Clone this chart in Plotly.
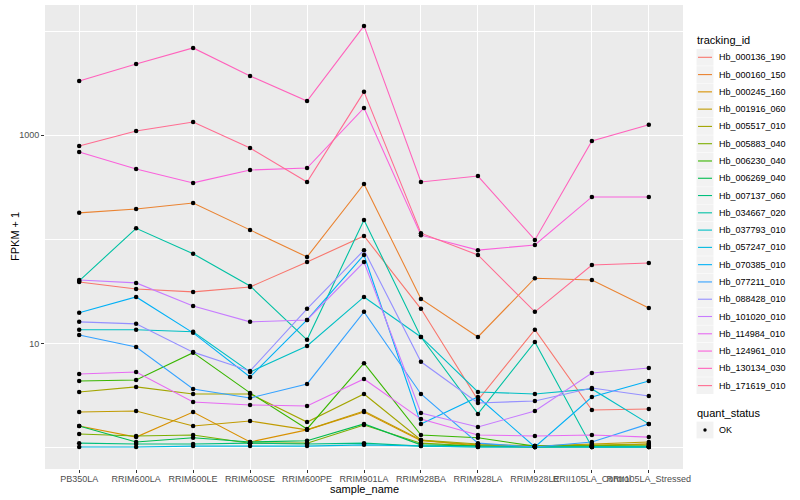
import plotly.graph_objects as go

samples = ["PB350LA", "RRIM600LA", "RRIM600LE", "RRIM600SE", "RRIM600PE", "RRIM901LA",
           "RRIM928BA", "RRIM928LA", "RRIM928LE", "RRII105LA_Control", "RRII105LA_Stressed"]

tracking_ids = ["Hb_000136_190", "Hb_000160_150", "Hb_000245_160", "Hb_001916_060",
                "Hb_005517_010", "Hb_005883_040", "Hb_006230_040", "Hb_006269_040",
                "Hb_007137_060", "Hb_034667_020", "Hb_037793_010", "Hb_057247_010",
                "Hb_070385_010", "Hb_077211_010", "Hb_088428_010", "Hb_101020_010",
                "Hb_114984_010", "Hb_124961_010", "Hb_130134_030", "Hb_171619_010"]

colors = ["#F8766D", "#EA8331", "#D89000", "#C09B00", "#A3A500", "#7CAE00", "#39B600",
          "#00BB4E", "#00BF7D", "#00C1A3", "#00BFC4", "#00BAE0", "#00B0F6", "#35A2FF",
          "#9590FF", "#C77CFF", "#E76BF3", "#FA62DB", "#FF62BC", "#FF6C91"]

# FPKM + 1 values, one list per tracking_id, in sample order
Hb_000136_190 = [39.1, 33.5, 31.4, 35.0, 60.8, 108, 21.6, 2.88, 13.6, 2.31, 2.36]
Hb_000160_150 = [180, 196, 224, 123, 68, 341, 26.9, 11.6, 42.5, 40.8, 22.0]
Hb_000245_160 = [1.62, 1.27, 2.21, 1.14, 1.49, 2.21, 1.17, 1.07, 1.04, 1.04, 1.09]
Hb_001916_060 = [2.21, 2.26, 1.62, 1.81, 1.49, 2.26, 1.19, 1.04, 1.04, 1.09, 1.14]
Hb_005517_010 = [3.44, 3.85, 3.29, 3.29, 1.77, 3.29, 1.19, 1.09, 1.04, 1.07, 1.09]
Hb_005883_040 = [1.36, 1.30, 1.33, 1.11, 1.11, 1.66, 1.11, 1.04, 1.02, 1.04, 1.04]
Hb_006230_040 = [4.39, 4.49, 8.2, 3.37, 1.52, 6.5, 1.33, 1.25, 1.04, 1.04, 1.04]
Hb_006269_040 = [1.62, 1.14, 1.25, 1.14, 1.17, 1.70, 1.07, 1.04, 1.02, 1.02, 1.02]
Hb_007137_060 = [1.11, 1.09, 1.09, 1.11, 1.09, 1.11, 1.04, 1.02, 1.02, 1.02, 1.02]
Hb_034667_020 = [40.0, 128, 73, 35.8, 10.9, 154, 11.6, 2.12, 10.4, 1.02, 1.02]
Hb_037793_010 = [13.6, 13.6, 13.0, 5.35, 9.5, 28.1, 11.6, 3.44, 3.29, 3.68, 1.70]
Hb_057247_010 = [1.02, 1.02, 1.04, 1.04, 1.04, 1.07, 1.04, 1.02, 1.02, 1.02, 1.02]
Hb_070385_010 = [19.8, 28.1, 12.7, 4.8, 16.9, 71, 1.70, 3.08, 1.02, 3.08, 4.39]
Hb_077211_010 = [12.1, 9.3, 3.68, 3.01, 4.11, 20.2, 3.29, 1.11, 1.02, 1.14, 1.70]
Hb_088428_010 = [16.2, 15.5, 8.3, 5.47, 21.6, 79, 6.7, 2.70, 2.82, 3.76, 3.15]
Hb_101020_010 = [40.8, 38.3, 23.0, 16.2, 16.9, 60.8, 2.16, 1.59, 2.26, 5.24, 5.85]
Hb_114984_010 = [5.12, 5.35, 2.76, 2.58, 2.52, 4.59, 1.89, 1.33, 1.30, 1.33, 1.27]
Hb_124961_010 = [692, 475, 349, 464, 485, 1830, 110, 79, 88.6, 256, 256]
Hb_130134_030 = [3320, 4830, 6890, 3710, 2130, 11200, 356, 406, 99, 880, 1260]
Hb_171619_010 = [790, 1100, 1340, 755, 356, 2610, 115, 71, 20.2, 56.9, 59.4]

series = [Hb_000136_190, Hb_000160_150, Hb_000245_160, Hb_001916_060, Hb_005517_010,
          Hb_005883_040, Hb_006230_040, Hb_006269_040, Hb_007137_060, Hb_034667_020,
          Hb_037793_010, Hb_057247_010, Hb_070385_010, Hb_077211_010, Hb_088428_010,
          Hb_101020_010, Hb_114984_010, Hb_124961_010, Hb_130134_030, Hb_171619_010]

y_tick_vals = [10, 1000]
y_tick_text = ["10", "1000"]
y_minor_vals = [1, 100, 10000]

FONT = "Liberation Sans"
W, H = 800, 500
L, R, T, B = 45, 117, 5, 31
PW, PH = W - L - R, H - T - B


def px(x):
    return (x - L) / PW


def py(y):
    return (H - B - y) / PH


fig = go.Figure()

for name, col, vals in zip(tracking_ids, colors, series):
    fig.add_trace(go.Scatter(x=samples, y=vals, mode="lines", name=name,
                             line=dict(color=col, width=1.1), showlegend=False,
                             hoverinfo="skip"))

all_x, all_y = [], []
for vals in series:
    all_x += samples
    all_y += vals
fig.add_trace(go.Scatter(x=all_x, y=all_y, mode="markers", name="OK",
                         marker=dict(color="black", size=4.5), showlegend=False))

shapes = []
annotations = []

# axis titles
annotations.append(dict(x=px(364), y=py(489), xref="paper", yref="paper",
                        text="sample_name", showarrow=False, xanchor="center",
                        yanchor="middle", font=dict(size=11, color="black", family=FONT)))
annotations.append(dict(x=px(15), y=py(237), xref="paper", yref="paper",
                        text="FPKM + 1", showarrow=False, textangle=-90, xanchor="center",
                        yanchor="middle", font=dict(size=11, color="black", family=FONT)))

# legend: tracking_id
annotations.append(dict(x=px(695), y=py(40), xref="paper", yref="paper",
                        text="tracking_id", showarrow=False, xanchor="left",
                        yanchor="middle", font=dict(size=11, color="black", family=FONT)))
step = 17.28
y0 = 57.3
for i, (name, col) in enumerate(zip(tracking_ids, colors)):
    yc = y0 + i * step
    shapes.append(dict(type="rect", xref="paper", yref="paper",
                       x0=px(696.5), x1=px(713.5), y0=py(yc - 8.4), y1=py(yc + 8.4),
                       fillcolor="#F2F2F2", line=dict(width=0), layer="below"))
    shapes.append(dict(type="line", xref="paper", yref="paper",
                       x0=px(698), x1=px(712), y0=py(yc), y1=py(yc),
                       line=dict(color=col, width=1.1)))
    annotations.append(dict(x=px(717), y=py(yc), xref="paper", yref="paper",
                            text=name, showarrow=False, xanchor="left", yanchor="middle",
                            font=dict(size=9, color="black", family=FONT)))

# legend: quant_status
annotations.append(dict(x=px(695), y=py(413), xref="paper", yref="paper",
                        text="quant_status", showarrow=False, xanchor="left",
                        yanchor="middle", font=dict(size=11, color="black", family=FONT)))
yc = 430
shapes.append(dict(type="rect", xref="paper", yref="paper",
                   x0=px(696.5), x1=px(713.5), y0=py(yc - 8.4), y1=py(yc + 8.4),
                   fillcolor="#F2F2F2", line=dict(width=0), layer="below"))
shapes.append(dict(type="circle", xref="paper", yref="paper",
                   x0=px(703.3), x1=px(706.7), y0=py(yc - 1.7), y1=py(yc + 1.7),
                   fillcolor="black", line=dict(width=0)))
annotations.append(dict(x=px(717), y=py(yc), xref="paper", yref="paper",
                        text="OK", showarrow=False, xanchor="left", yanchor="middle",
                        font=dict(size=9, color="black", family=FONT)))

fig.update_layout(
    width=W, height=H,
    margin=dict(l=L, r=R, t=T, b=B, pad=0, autoexpand=False),
    paper_bgcolor="white",
    plot_bgcolor="#EBEBEB",
    font=dict(family=FONT, size=9, color="#4D4D4D"),
    shapes=shapes,
    annotations=annotations,
    showlegend=False,
)

fig.update_xaxes(
    type="category", categoryorder="array", categoryarray=samples,
    range=[-0.6, len(samples) - 0.4], automargin=False,
    showgrid=True, gridcolor="white", gridwidth=1.1,
    ticks="outside", ticklen=3, tickcolor="#333333", tickwidth=1,
    ticklabelstandoff=-2,
    tickangle=0, tickfont=dict(size=9, color="#4D4D4D", family=FONT),
    zeroline=False, showline=False,
)

fig.update_yaxes(
    type="log", range=[-0.2025, 4.25], automargin=False,
    tickmode="array", tickvals=y_tick_vals, ticktext=y_tick_text,
    showgrid=True, gridcolor="white", gridwidth=1.1,
    minor=dict(tickmode="array", tickvals=y_minor_vals, showgrid=True,
               gridcolor="white", gridwidth=0.55, ticklen=0),
    ticks="outside", ticklen=3, tickcolor="#333333", tickwidth=1,
    tickfont=dict(size=9, color="#4D4D4D", family=FONT),
    zeroline=False, showline=False,
)

fig.write_html("out.html", config={"displayModeBar": False},
               post_script="document.body.style.margin='0';")
